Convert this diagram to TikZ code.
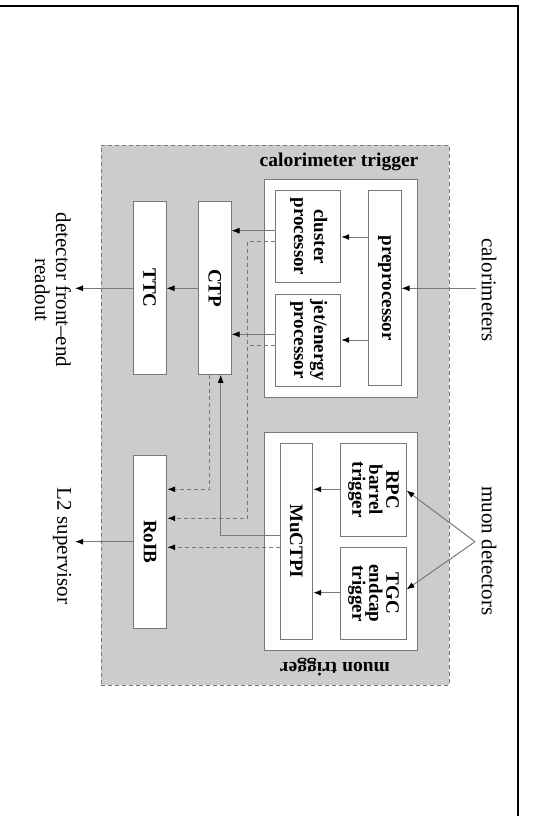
\documentclass[tikz,border=0pt]{standalone}
\usepackage{fontspec}
\usepackage{graphicx}
\setmainfont{Liberation Serif}
\usetikzlibrary{arrows.meta}
\definecolor{areagray}{RGB}{204,204,204}
\definecolor{linegray}{RGB}{120,120,120}
\newcommand\extfont{\fontsize{21}{21}\selectfont}
\newcommand\unitfont{\bfseries\fontsize{19}{20}\selectfont}
\newcommand\titlefont{\bfseries\fontsize{19.5}{21}\selectfont}
\begin{document}
\begin{tikzpicture}[x=1pt,y=-1pt,
  outerbox/.style={draw=linegray, fill=areagray, line width=0.8pt, dash pattern=on 4pt off 3pt, inner sep=0pt},
  groupbox/.style={draw=linegray, fill=white, line width=1pt, inner sep=0pt},
  unit/.style={draw=linegray, fill=white, line width=1pt, inner sep=0pt, font=\unitfont},
  link/.style={draw=linegray, line width=1pt},
  arr/.style={link, -{Latex[black,length=8pt,width=6pt]}},
  dlink/.style={link, dash pattern=on 4pt off 3pt},
  darr/.style={dlink, -{Latex[black,length=8pt,width=6pt]}},
  title/.style={font=\titlefont, inner sep=0pt},
  ext/.style={font=\extfont, inner sep=0pt, rotate=-90, align=center},
  frame/.style={draw=black, line width=1.5pt}
]
\useasboundingbox (0,0) rectangle (545,816);
\fill[white] (0,0) rectangle (545,816);
% frame
\coordinate (ftl) at (0,6);
\coordinate (ftr) at (518,6);
\coordinate (fbr) at (518,816);
\draw[frame] (ftl) -- (ftr) -- (fbr);

% outer level-1 area
\node[outerbox, minimum width=348pt, minimum height=540pt] (outer) at (275,415) {};
\node[title] (caltitle) at (339,162) {calorimeter trigger};
\node[title, rotate=180] (mutitle) at (335,667) {muon trigger};

% calorimeter trigger
\node[groupbox, minimum width=153pt, minimum height=218pt] (calbox) at (340.8,288.2) {};
\node[unit, minimum width=32.7pt, minimum height=195.3pt] (pre) at (384.7,288.3) {\rotatebox{-90}{preprocessor}};
\node[unit, minimum width=65.4pt, minimum height=91.6pt] (cl) at (308,236.5)
  {\rotatebox{-90}{\begin{tabular}{@{}c@{}}cluster\\[0pt]processor\end{tabular}}};
\node[unit, minimum width=65.4pt, minimum height=92pt] (jet) at (308,340)
  {\rotatebox{-90}{\begin{tabular}{@{}c@{}}jet/energy\\[0pt]processor\end{tabular}}};

% central
\node[unit, minimum width=32.3pt, minimum height=172.6pt] (ctp) at (214.85,288) {\rotatebox{-90}{CTP}};
\node[unit, minimum width=32.7pt, minimum height=172.6pt] (ttc) at (149.65,288) {\rotatebox{-90}{TTC}};
\node[unit, minimum width=33.4pt, minimum height=173.3pt] (roib) at (150,541.65) {\rotatebox{-90}{RoIB}};

% muon trigger
\node[groupbox, minimum width=153pt, minimum height=218.4pt] (mubox) at (340.8,541.5) {};
\node[unit, minimum width=65.3pt, minimum height=92.7pt] (rpc) at (373.35,489.65)
  {\rotatebox{-90}{\begin{tabular}{@{}c@{}}RPC\\[-3pt]barrel\\[-3pt]trigger\end{tabular}}};
\node[unit, minimum width=65.3pt, minimum height=91.6pt] (tgc) at (373.35,593.5)
  {\rotatebox{-90}{\begin{tabular}{@{}c@{}}TGC\\[-3pt]endcap\\[-3pt]trigger\end{tabular}}};
\node[unit, minimum width=32.7pt, minimum height=196pt] (muctpi) at (296.35,541.3) {\rotatebox{-90}{MuCTPI}};

% external labels
\node[ext] (calo) at (489,290) {calorimeters};
\node[ext] (mudet) at (489,551) {muon detectors};
\node[ext] (dfe) at (53,290) {detector front–end\\readout};
\node[ext] (l2) at (62,546) {L2 supervisor};

\coordinate (calin) at (476,288.3);
\coordinate (muin) at (475,541.7);
\coordinate (dfeout) at (75,288.3);
\coordinate (l2out) at (75,541.7);
\coordinate (dbus) at (247.7,518.3);

% calorimeter path
\draw[arr] (calin) -- (pre.east |- calin);
\draw[arr] (pre.west |- 0,237) -- (cl.east |- 0,237);
\draw[arr] (pre.west |- 0,340) -- (jet.east |- 0,340);
\draw[arr] (cl.west |- 0,230.7) -- (ctp.east |- 0,230.7);
\draw[arr] (jet.west |- 0,334.3) -- (ctp.east |- 0,334.3);
\draw[dlink] (cl.west |- 0,241.7) -- (dbus |- 0,241.7);
\draw[dlink] (jet.west |- 0,345.7) -- (dbus |- 0,345.7);
\draw[darr] (dbus |- 0,241.7) -- (dbus) -- (roib.east |- dbus);
\draw[arr] (ctp.west |- calin) -- (ttc.east |- calin);
\draw[arr] (ttc.west |- calin) -- (dfeout);

% CTP to RoIB
\draw[darr] (ctp.south -| 209.3,0) -- (209.3,489.3) -- (roib.east |- 0,489.3);

% muon path
\draw[arr] (muin) -- (rpc.east |- 0,490.5);
\draw[arr] (muin) -- (tgc.east |- 0,589.5);
\draw[arr] (rpc.west |- 0,489.3) -- (muctpi.east |- 0,489.3);
\draw[arr] (tgc.west |- 0,592.7) -- (muctpi.east |- 0,592.7);
\draw[arr] (muctpi.west |- 0,535.7) -- (220.7,535.7) -- (ctp.south -| 220.7,0);
\draw[darr] (muctpi.west |- 0,547.3) -- (roib.east |- 0,547.3);
\draw[arr] (roib.west |- l2out) -- (l2out);
\end{tikzpicture}
\end{document}
